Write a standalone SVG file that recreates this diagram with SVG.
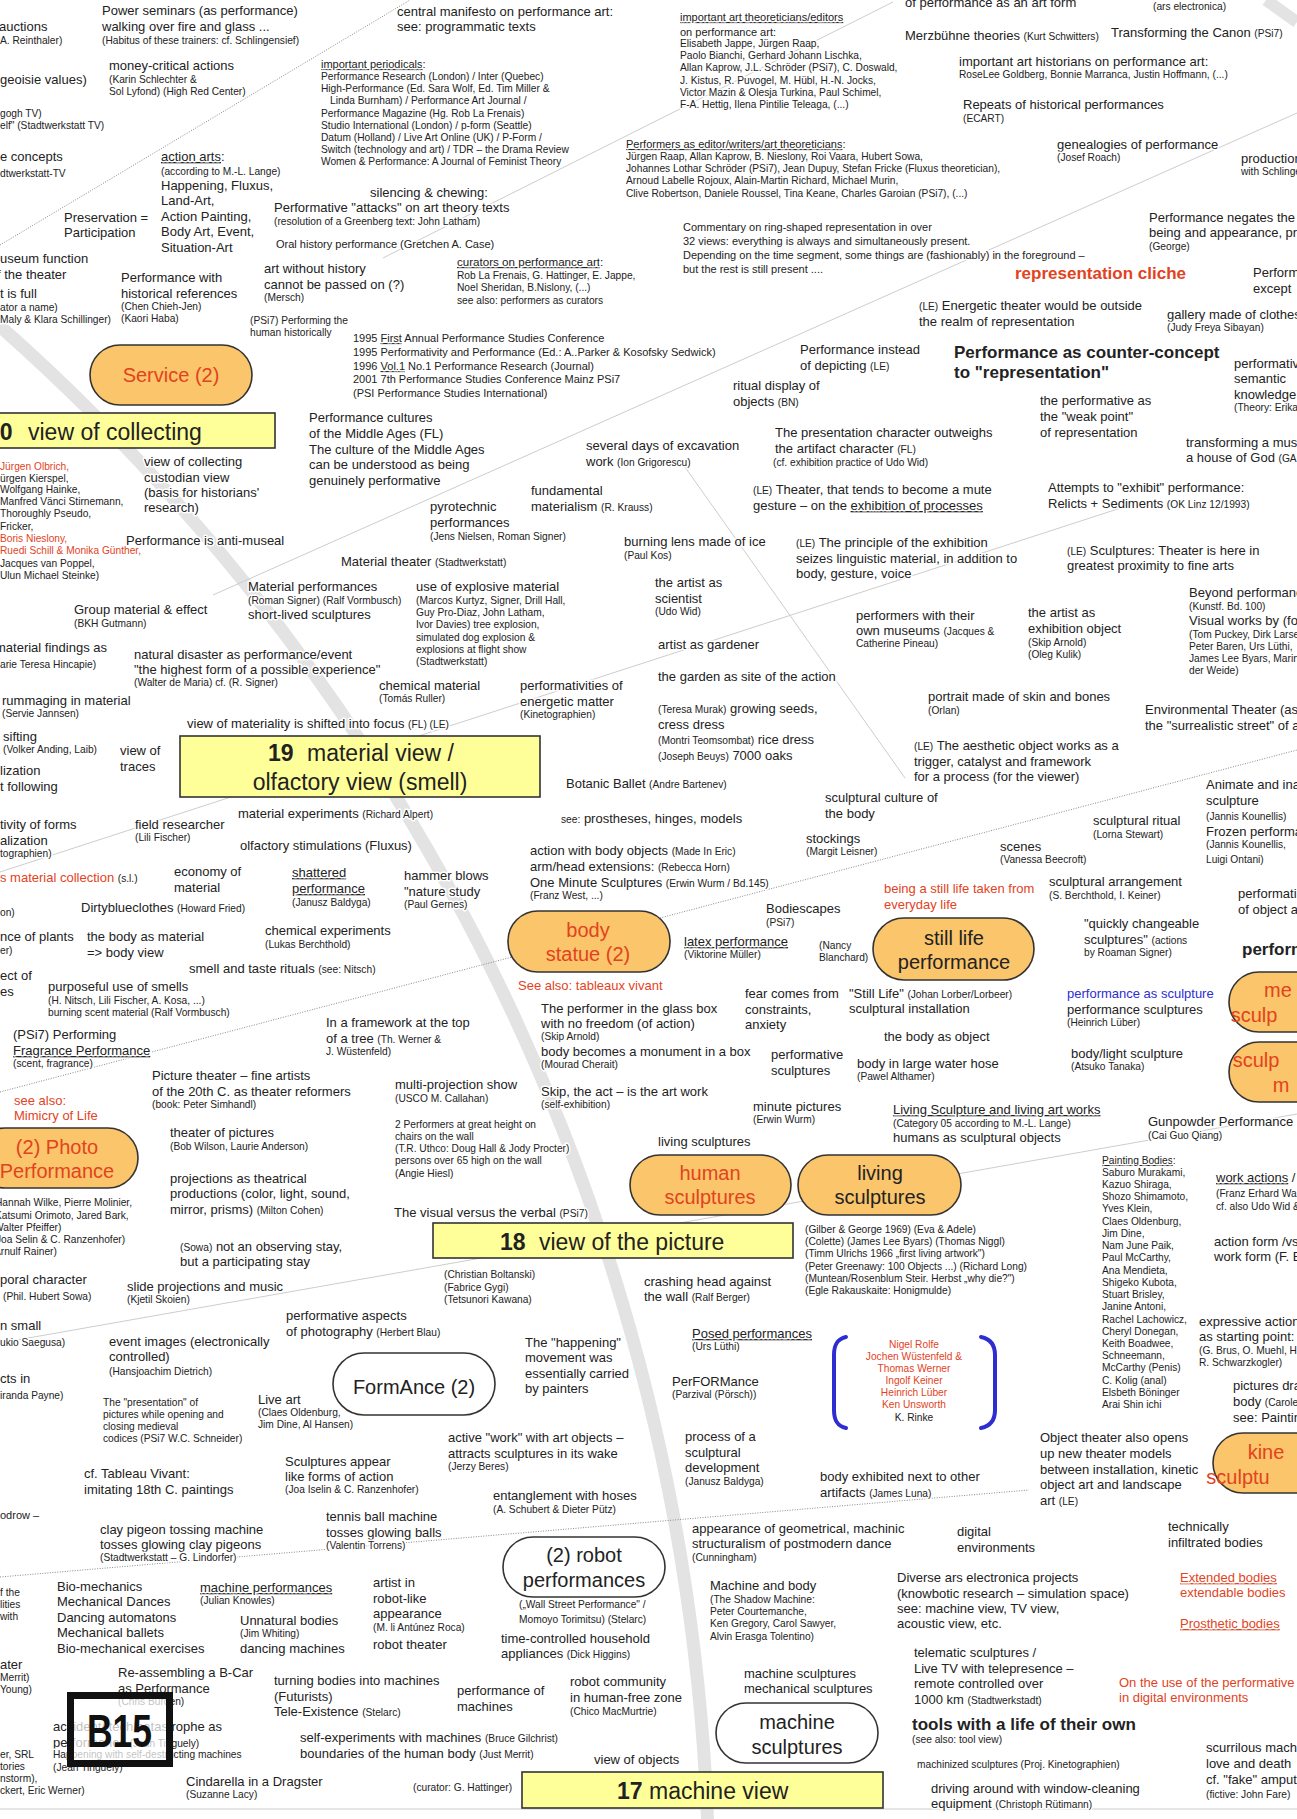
<svg xmlns="http://www.w3.org/2000/svg" width="1297" height="1819" viewBox="0 0 1297 1819">
<style>
text{font-family:"Liberation Sans",Arial,Helvetica,sans-serif;font-size:13px;fill:#222}
.s{font-size:10.2px}
.m{font-size:11px}
.r{fill:#e2431e}
.bl{fill:#2d2dd2}
.u{text-decoration:underline}
.bd{font-weight:bold}
#labels text{paint-order:stroke;stroke:#fff;stroke-width:3px;stroke-linejoin:round}
.pill{stroke:#333;stroke-width:1.6}
.or{fill:#fbc56b}
.wh{fill:#fff}
.yb{fill:#ffff99;stroke:#333;stroke-width:1.6}
.nt{font-size:20px;text-anchor:middle}
.hd{font-size:23px}
.sp{fill:none;stroke:#cdcdcd;stroke-width:1}
.dt{fill:none;stroke:#8a8a8a;stroke-width:1;stroke-dasharray:1 1.5}
</style>
<rect width="1297" height="1819" fill="#fff"/>

<!-- ring of views -->
<g id="ring" fill="none" stroke="#e3e3e3">
<circle cx="-1392" cy="1900" r="2101" stroke-width="13"/>
<path d="M1266,0 L1297,22" stroke-width="12"/>
</g>

<!-- spokes and links -->
<g id="connectors">
<path class="dt" d="M0,245 L410,0"/>
<path class="sp" d="M383,258 L893,2"/>
<path class="sp" d="M213,595 L1297,113"/>
<path class="sp" d="M680,460 L905,778"/>
<path class="sp" d="M0,872 L1130,505"/>
<path class="dt" d="M0,1092 L1297,750"/>
<path class="sp" d="M0,1343 L1297,1114"/>
<path class="dt" d="M0,1577 L1029,1490"/>
<path class="sp" d="M0,1809 L1297,1809"/>
</g>

<g id="labels">
<!-- upper left -->
<text x="-1" y="31">auctions</text>
<text class="s" x="0" y="44">A. Reinthaler)</text>
<text x="102" y="15">Power seminars (as performance)</text>
<text x="102" y="31">walking over fire and glass ...</text>
<text class="s" x="102" y="44">(Habitus of  these trainers: cf. Schlingensief)</text>
<text x="0" y="84">geoisie values)</text>
<text x="109" y="70">money-critical actions</text>
<text class="s" x="109" y="83">(Karin Schlechter &amp;</text>
<text class="s" x="109" y="95">Sol Lyfond) (High Red Center)</text>
<text class="s" x="0" y="117">gogh TV)</text>
<text class="s" x="0" y="129">elf" (Stadtwerkstatt TV)</text>
<text x="0" y="161">e concepts</text>
<text class="s" x="0" y="177">dtwerkstatt-TV</text>
<text x="161" y="161"><tspan class="u">action arts</tspan>:</text>
<text class="s" x="161" y="175">(according to M.-L. Lange)</text>
<text x="161" y="190">Happening, Fluxus,</text>
<text x="161" y="205">Land-Art,</text>
<text x="161" y="221">Action Painting,</text>
<text x="161" y="236">Body Art, Event,</text>
<text x="161" y="252">Situation-Art</text>
<text x="64" y="222">Preservation =</text>
<text x="64" y="237">Participation</text>
<text x="370" y="197">silencing &amp; chewing:</text>
<text x="274" y="212">Performative "attacks" on art theory texts</text>
<text class="s" x="274" y="225">(resolution of a Greenberg text: John Latham)</text>
<text class="m" x="276" y="248">Oral history performance (Gretchen A. Case)</text>
<text x="0" y="263">useum function</text>
<text x="-3" y="279">f the theater</text>
<text x="0" y="298">t is full</text>
<text class="s" x="0" y="311">ator a name)</text>
<text class="s" x="0" y="323">Maly &amp; Klara Schillinger)</text>
<text x="121" y="282">Performance with</text>
<text x="121" y="298">historical references</text>
<text class="s" x="121" y="310">(Chen Chieh-Jen)</text>
<text class="s" x="121" y="322">(Kaori Haba)</text>
<text x="264" y="273">art without history</text>
<text x="264" y="289">cannot be passed on (?)</text>
<text class="s" x="264" y="301">(Mersch)</text>
<text class="s" x="250" y="324">(PSi7) Performing the</text>
<text class="s" x="250" y="336">human historically</text>
<text class="m" x="353" y="342">1995 <tspan class="u">First</tspan> Annual Performance Studies Conference</text>
<text class="m" x="353" y="356">1995 Performativity and Performance (Ed.: A..Parker &amp; Kosofsky Sedwick)</text>
<text class="m" x="353" y="370">1996 <tspan class="u">Vol.1</tspan> No.1 Performance Research (Journal)</text>
<text class="m" x="353" y="383">2001 7th Performance Studies Conference Mainz PSi7</text>
<text class="m" x="353" y="397">(PSI Performance Studies International)</text>
<text x="309" y="422">Performance cultures</text>
<text x="309" y="438">of the Middle Ages (FL)</text>
<text x="309" y="454">The culture of the Middle Ages</text>
<text x="309" y="469">can be understood as being</text>
<text x="309" y="485">genuinely performative</text>

<!-- upper middle -->
<text x="397" y="16">central manifesto on performance art:</text>
<text x="397" y="31">see: programmatic texts</text>
<text class="m" x="321" y="68"><tspan class="u">important periodicals</tspan>:</text>
<text class="s" x="321" y="80">Performance Research (London)  / Inter (Quebec)</text>
<text class="s" x="321" y="92">High-Performance (Ed. Sara Wolf, Ed. Tim Miller &amp;</text>
<text class="s" x="330" y="104">Linda Burnham) / Performance Art Journal /</text>
<text class="s" x="321" y="117">Performance Magazine (Hg. Rob La Frenais)</text>
<text class="s" x="321" y="129">Studio International (London) / p-form (Seattle)</text>
<text class="s" x="321" y="141">Datum (Holland) / Live Art Online (UK) / P-Form /</text>
<text class="s" x="321" y="153">Switch (technology and art) / TDR – the Drama Review</text>
<text class="s" x="321" y="165">Women &amp; Performance: A Journal of Feminist Theory</text>
<text class="m" x="680" y="21"><tspan class="u">important art theoreticians/editors</tspan></text>
<text class="m" x="680" y="36">on performance art:</text>
<text class="s" x="680" y="47">Elisabeth Jappe, Jürgen Raap,</text>
<text class="s" x="680" y="59">Paolo Bianchi, Gerhard Johann Lischka,</text>
<text class="s" x="680" y="71">Allan Kaprow, J.L. Schröder (PSi7), C. Doswald,</text>
<text class="s" x="680" y="84">J. Kistus, R. Puvogel, M. Hübl, H.-N. Jocks,</text>
<text class="s" x="680" y="96">Victor Mazin &amp; Olesja Turkina, Paul Schimel,</text>
<text class="s" x="680" y="108">F-A. Hettig, Ilena Pintilie Teleaga, (...)</text>
<text class="m" x="626" y="148"><tspan class="u">Performers as editor/writers/art theoreticians</tspan>:</text>
<text class="s" x="626" y="160">Jürgen Raap, Allan Kaprow, B. Nieslony, Roi Vaara, Hubert Sowa,</text>
<text class="s" x="626" y="172">Johannes Lothar Schröder (PSi7),  Jean Dupuy, Stefan Fricke (Fluxus theoretician),</text>
<text class="s" x="626" y="184">Arnoud Labelle Rojoux, Alain-Martin Richard, Michael Murin,</text>
<text class="s" x="626" y="197">Clive Robertson, Daniele Roussel, Tina Keane, Charles Garoian (PSi7), (...)</text>
<text class="m" x="683" y="231">Commentary on ring-shaped representation in over</text>
<text class="m" x="683" y="245">32 views: everything is always and simultaneously present.</text>
<text class="m" x="683" y="259">Depending on the time segment, some things are (fashionably) in the foreground –</text>
<text class="m" x="683" y="273">but the rest is still present ....</text>
<text x="457" y="266" style="font-size:11.6px"><tspan class="u">curators on performance art</tspan>:</text>
<text class="s" x="457" y="279">Rob La Frenais, G. Hattinger, E. Jappe,</text>
<text class="s" x="457" y="291">Noel Sheridan, B.Nislony, (...)</text>
<text class="s" x="457" y="304">see also: performers as curators</text>
<text x="800" y="354">Performance instead</text>
<text x="800" y="370">of depicting <tspan class="s">(LE)</tspan></text>
<text x="733" y="390">ritual display of</text>
<text x="733" y="406">objects <tspan class="s">(BN)</tspan></text>
<text x="586" y="450">several days of excavation</text>
<text x="586" y="466">work <tspan class="s">(Ion Grigorescu)</tspan></text>
<text x="775" y="437">The presentation character outweighs</text>
<text x="775" y="453">the artifact character <tspan class="s">(FL)</tspan></text>
<text class="s" x="773" y="466">(cf. exhibition practice of Udo Wid)</text>

<!-- upper right -->
<text x="905" y="7">of performance as an art form</text>
<text class="s" x="1153" y="10">(ars electronica)</text>
<text x="905" y="40">Merzbühne theories <tspan class="s">(Kurt Schwitters)</tspan></text>
<text x="1111" y="37">Transforming the Canon <tspan class="s">(PSi7)</tspan></text>
<text x="959" y="66">important art historians on performance art:</text>
<text class="s" x="959" y="78">RoseLee Goldberg, Bonnie Marranca, Justin Hoffmann, (...)</text>
<text x="963" y="109">Repeats of historical performances</text>
<text class="s" x="963" y="122">(ECART)</text>
<text x="1057" y="149">genealogies of performance</text>
<text class="s" x="1057" y="161">(Josef Roach)</text>
<text x="1241" y="163">production</text>
<text class="s" x="1241" y="175">with Schlinge</text>
<text x="1149" y="222">Performance negates the</text>
<text x="1149" y="237">being and appearance, pr</text>
<text class="s" x="1149" y="250">(George)</text>
<text class="r bd" x="1015" y="279" style="font-size:17px">representation cliche</text>
<text x="1253" y="277">Perform</text>
<text x="1253" y="293">except</text>
<text x="919" y="310"><tspan class="s">(LE)</tspan> Energetic theater would be outside</text>
<text x="919" y="326">the realm of representation</text>
<text x="1167" y="319">gallery made of clothes</text>
<text class="s" x="1167" y="331">(Judy Freya Sibayan)</text>
<text class="bd" x="954" y="358" style="font-size:17px">Performance as counter-concept</text>
<text class="bd" x="954" y="378" style="font-size:17px">to "representation"</text>
<text x="1234" y="368">performative</text>
<text x="1234" y="383">semantic</text>
<text x="1234" y="399">knowledge</text>
<text class="s" x="1234" y="411">(Theory: Erika</text>
<text x="1040" y="405">the performative as</text>
<text x="1040" y="421">the "weak point"</text>
<text x="1040" y="437">of representation</text>
<text x="1186" y="447">transforming a mus</text>
<text x="1186" y="462">a house of God <tspan class="s">(GA</tspan></text>

<!-- collecting / material, left -->
<text class="s r" x="0" y="470">Jürgen Olbrich,</text>
<text class="s" x="0" y="482">ürgen Kierspel,</text>
<text class="s" x="0" y="493">Wolfgang Hainke,</text>
<text class="s" x="0" y="505">Manfred Vänci Stirnemann,</text>
<text class="s" x="0" y="517">Thoroughly Pseudo,</text>
<text class="s" x="0" y="530">Fricker,</text>
<text class="s r" x="0" y="542">Boris Nieslony,</text>
<text class="s r" x="0" y="554">Ruedi Schill &amp; Monika Günther,</text>
<text class="s" x="0" y="567">Jacques van Poppel,</text>
<text class="s" x="0" y="579">Ulun Michael Steinke)</text>
<text x="144" y="466">view of collecting</text>
<text x="144" y="482">custodian view</text>
<text x="144" y="497">(basis for historians'</text>
<text x="144" y="512">research)</text>
<text x="126" y="545">Performance is anti-museal</text>
<text x="341" y="566">Material theater <tspan class="s">(Stadtwerkstatt)</tspan></text>
<text x="248" y="591">Material performances</text>
<text class="s" x="248" y="604">(Roman Signer) (Ralf Vormbusch)</text>
<text x="248" y="619">short-lived sculptures</text>
<text x="74" y="614">Group material &amp; effect</text>
<text class="s" x="74" y="627">(BKH Gutmann)</text>
<text x="416" y="591">use of explosive material</text>
<text class="s" x="416" y="604">(Marcos Kurtyz, Signer, Drill Hall,</text>
<text class="s" x="416" y="616">Guy Pro-Diaz, John Latham,</text>
<text class="s" x="416" y="628">Ivor Davies) tree explosion,</text>
<text class="s" x="416" y="641">simulated dog explosion &amp;</text>
<text class="s" x="416" y="653">explosions at flight show</text>
<text class="s" x="416" y="665">(Stadtwerkstatt)</text>
<text x="-5" y="652">material findings as</text>
<text class="s" x="0" y="668">arie Teresa Hincapie)</text>
<text x="134" y="659">natural disaster as performance/event</text>
<text x="134" y="674">"the highest form of a possible experience"</text>
<text class="s" x="134" y="686">(Walter de Maria) cf. (R. Signer)</text>
<text x="379" y="690">chemical material</text>
<text class="s" x="379" y="702">(Tomás Ruller)</text>
<text x="520" y="690">performativities of</text>
<text x="520" y="706">energetic matter</text>
<text class="s" x="520" y="718">(Kinetographien)</text>
<text x="2" y="705">rummaging in material</text>
<text class="s" x="2" y="717">(Servie Jannsen)</text>
<text x="187" y="728">view of materiality is shifted into focus  <tspan class="s">(FL) (LE)</tspan></text>
<text x="3" y="741">sifting</text>
<text class="s" x="3" y="753">(Volker Anding, Laib)</text>
<text x="120" y="755">view of</text>
<text x="120" y="771">traces</text>
<text x="0" y="775">lization</text>
<text x="0" y="791">t following</text>
<text x="0" y="829">tivity of forms</text>
<text x="0" y="845">alization</text>
<text class="s" x="0" y="857">tographien)</text>
<text x="135" y="829">field researcher</text>
<text class="s" x="135" y="841">(Lili Fischer)</text>
<text x="238" y="818">material experiments <tspan class="s">(Richard Alpert)</tspan></text>
<text x="240" y="850">olfactory stimulations (Fluxus)</text>
<text x="0" y="882"><tspan class="r">s material collection</tspan> <tspan class="s">(s.l.)</tspan></text>
<text x="174" y="876">economy of</text>
<text x="174" y="892">material</text>
<text x="292" y="877"><tspan class="u">shattered</tspan></text>
<text x="292" y="893"><tspan class="u">performance</tspan></text>
<text class="s" x="292" y="906">(Janusz Baldyga)</text>
<text x="404" y="880">hammer blows</text>
<text x="404" y="896">"nature study</text>
<text class="s" x="404" y="908">(Paul Gernes)</text>
<text x="81" y="912">Dirtyblueclothes <tspan class="s">(Howard Fried)</tspan></text>
<text class="s" x="0" y="916">on)</text>

<!-- material, middle -->
<text x="531" y="495">fundamental</text>
<text x="531" y="511">materialism <tspan class="s">(R. Krauss)</tspan></text>
<text x="430" y="511">pyrotechnic</text>
<text x="430" y="527">performances</text>
<text class="s" x="430" y="540">(Jens Nielsen, Roman Signer)</text>
<text x="624" y="546">burning lens made of ice</text>
<text class="s" x="624" y="559">(Paul Kos)</text>
<text x="753" y="494"><tspan class="s">(LE)</tspan> Theater, that tends to become a mute</text>
<text x="753" y="510">gesture – on the <tspan class="u">exhibition of processes</tspan></text>
<text x="796" y="547"><tspan class="s">(LE)</tspan> The principle of the exhibition</text>
<text x="796" y="563">seizes linguistic material, in addition to</text>
<text x="796" y="578">body, gesture, voice</text>
<text x="655" y="587">the artist as</text>
<text x="655" y="603">scientist</text>
<text class="s" x="655" y="615">(Udo Wid)</text>
<text x="856" y="620">performers with their</text>
<text x="856" y="635">own museums <tspan class="s">(Jacques &amp;</tspan></text>
<text class="s" x="856" y="647">Catherine Pineau)</text>
<text x="658" y="649">artist as gardener</text>
<text x="658" y="681">the garden as site of the action</text>
<text x="658" y="713"><tspan class="s">(Teresa Murak)</tspan> growing seeds,</text>
<text x="658" y="729">cress dress</text>
<text x="658" y="744"><tspan class="s">(Montri Teomsombat)</tspan> rice dress</text>
<text x="658" y="760"><tspan class="s">(Joseph Beuys)</tspan> 7000 oaks</text>
<text x="566" y="788">Botanic Ballet <tspan class="s">(Andre Bartenev)</tspan></text>
<text x="561" y="823"><tspan class="s">see:</tspan> prostheses, hinges, models</text>
<text x="530" y="855">action with body objects <tspan class="s">(Made In Eric)</tspan></text>
<text x="530" y="871">arm/head extensions: <tspan class="s">(Rebecca Horn)</tspan></text>
<text x="530" y="887">One Minute Sculptures <tspan class="s">(Erwin Wurm / Bd.145)</tspan></text>
<text class="s" x="530" y="899">(Franz West, ...)</text>
<text x="825" y="802">sculptural culture of</text>
<text x="825" y="818">the body</text>
<text x="806" y="843">stockings</text>
<text class="s" x="806" y="855">(Margit Leisner)</text>
<text x="766" y="913">Bodiescapes</text>
<text class="s" x="766" y="926">(PSi7)</text>

<!-- material / sculpture, right -->
<text x="1048" y="492">Attempts to "exhibit" performance:</text>
<text x="1048" y="508">Relicts + Sediments <tspan class="s">(OK Linz 12/1993)</tspan></text>
<text x="1067" y="555"><tspan class="s">(LE)</tspan> Sculptures: Theater is here in</text>
<text x="1067" y="570">greatest proximity to fine arts</text>
<text x="1189" y="597">Beyond performance</text>
<text class="s" x="1189" y="610">(Kunstf. Bd. 100)</text>
<text x="1189" y="625">Visual works by (fo</text>
<text class="s" x="1189" y="638">(Tom Puckey, Dirk Larsen,</text>
<text class="s" x="1189" y="650">Peter Baren, Urs Lüthi,</text>
<text class="s" x="1189" y="662">James Lee Byars, Marin</text>
<text class="s" x="1189" y="674">der Weide)</text>
<text x="1028" y="617">the artist as</text>
<text x="1028" y="633">exhibition object</text>
<text class="s" x="1028" y="646">(Skip Arnold)</text>
<text class="s" x="1028" y="658">(Oleg Kulik)</text>
<text x="928" y="701">portrait made of skin and bones</text>
<text class="s" x="928" y="714">(Orlan)</text>
<text x="1145" y="714">Environmental Theater (as</text>
<text x="1145" y="730">the "surrealistic street" of a</text>
<text x="914" y="750"><tspan class="s">(LE)</tspan> The aesthetic object works as a</text>
<text x="914" y="766">trigger, catalyst and framework</text>
<text x="914" y="781">for a process (for the viewer)</text>
<text x="1206" y="789">Animate and ina</text>
<text x="1206" y="805">sculpture</text>
<text class="s" x="1206" y="820">(Jannis Kounellis)</text>
<text x="1206" y="836">Frozen performa</text>
<text class="s" x="1206" y="848">(Jannis Kounellis,</text>
<text class="s" x="1206" y="863">Luigi Ontani)</text>
<text x="1093" y="825">sculptural ritual</text>
<text class="s" x="1093" y="838">(Lorna Stewart)</text>
<text x="1000" y="851">scenes</text>
<text class="s" x="1000" y="863">(Vanessa Beecroft)</text>
<text class="r" x="884" y="893">being a still life taken from</text>
<text class="r" x="884" y="909">everyday life</text>
<text x="1049" y="886">sculptural arrangement</text>
<text class="s" x="1049" y="899">(S. Berchthold, I. Keiner)</text>
<text x="1238" y="898">performati</text>
<text x="1238" y="914">of object a</text>

<!-- picture view, left -->
<text x="0" y="941">nce of plants</text>
<text class="s" x="0" y="954">er)</text>
<text x="0" y="980">ect of</text>
<text x="0" y="996">es</text>
<text x="87" y="941">the body as material</text>
<text x="87" y="957">=&gt; body view</text>
<text x="265" y="935">chemical experiments</text>
<text class="s" x="265" y="948">(Lukas Berchthold)</text>
<text x="189" y="973">smell and taste rituals <tspan class="s">(see: Nitsch)</tspan></text>
<text x="48" y="991">purposeful use of smells</text>
<text class="s" x="48" y="1004">(H. Nitsch, Lili Fischer, A. Kosa, ...)</text>
<text class="s" x="48" y="1016">burning scent material (Ralf Vormbusch)</text>
<text x="13" y="1039">(PSi7) Performing</text>
<text x="13" y="1055"><tspan class="u">Fragrance Performance</tspan></text>
<text class="s" x="13" y="1067">(scent, fragrance)</text>
<text x="326" y="1027">In a framework at the top</text>
<text x="326" y="1043">of a tree <tspan class="s">(Th. Werner &amp;</tspan></text>
<text class="s" x="326" y="1055">J. Wüstenfeld)</text>
<text class="r" x="14" y="1105">see also:</text>
<text class="r" x="14" y="1120">Mimicry of Life</text>
<text x="152" y="1080">Picture theater – fine artists</text>
<text x="152" y="1096">of the 20th C. as theater reformers</text>
<text class="s" x="152" y="1108">(book: Peter Simhandl)</text>
<text x="395" y="1089">multi-projection show</text>
<text class="s" x="395" y="1102">(USCO M. Callahan)</text>
<text x="170" y="1137">theater of pictures</text>
<text class="s" x="170" y="1150">(Bob Wilson, Laurie Anderson)</text>
<text class="s" x="395" y="1128">2 Performers at great height on</text>
<text class="s" x="395" y="1140">chairs on the wall</text>
<text class="s" x="395" y="1152">(T.R. Uthco: Doug Hall &amp;  Jody Procter)</text>
<text class="s" x="395" y="1164">persons over 65 high on the wall</text>
<text class="s" x="395" y="1177">(Angie Hiesl)</text>
<text x="170" y="1183">projections as theatrical</text>
<text x="170" y="1198">productions (color, light, sound,</text>
<text x="170" y="1214">mirror, prisms) <tspan class="s">(Milton Cohen)</tspan></text>
<text class="s" x="-5" y="1206">Hannah Wilke, Pierre Molinier,</text>
<text class="s" x="-5" y="1219">Katsumi Orimoto, Jared Bark,</text>
<text class="s" x="-6" y="1231">Walter Pfeiffer)</text>
<text class="s" x="-4" y="1243">Joa Selin &amp; C. Ranzenhofer)</text>
<text class="s" x="-6" y="1255">Arnulf Rainer)</text>
<text x="394" y="1217">The visual versus the verbal <tspan class="s">(PSi7)</tspan></text>
<text x="180" y="1251"><tspan class="s">(Sowa)</tspan> not an observing stay,</text>
<text x="180" y="1266">but a participating stay</text>
<text x="0" y="1284">poral character</text>
<text class="s" x="3" y="1300">(Phil. Hubert Sowa)</text>
<text x="127" y="1291">slide projections and music</text>
<text class="s" x="127" y="1303">(Kjetil Skoien)</text>
<text x="286" y="1320">performative aspects</text>
<text x="286" y="1336">of photography <tspan class="s">(Herbert Blau)</tspan></text>
<text x="0" y="1330">n small</text>
<text class="s" x="0" y="1346">ukio Saegusa)</text>
<text x="109" y="1346">event images (electronically</text>
<text x="109" y="1361">controlled)</text>
<text class="s" x="109" y="1375">(Hansjoachim Dietrich)</text>

<!-- picture view, middle -->
<text class="r" x="518" y="990">See also:  tableaux vivant</text>
<text x="684" y="946"><tspan class="u">latex performance</tspan></text>
<text class="s" x="684" y="958">(Viktorine Müller)</text>
<text class="s" x="819" y="949">(Nancy</text>
<text class="s" x="819" y="961">Blanchard)</text>
<text x="541" y="1013">The performer in the glass box</text>
<text x="541" y="1028">with no freedom (of action)</text>
<text class="s" x="541" y="1040">(Skip Arnold)</text>
<text x="541" y="1056">body becomes a monument in a box</text>
<text class="s" x="541" y="1068">(Mourad Cherait)</text>
<text x="541" y="1096">Skip, the act – is the art work</text>
<text class="s" x="541" y="1108">(self-exhibition)</text>
<text x="745" y="998">fear comes from</text>
<text x="745" y="1014">constraints,</text>
<text x="745" y="1029">anxiety</text>
<text x="849" y="998">"Still Life" <tspan class="s">(Johan Lorber/Lorbeer)</tspan></text>
<text x="849" y="1013">sculptural installation</text>
<text x="771" y="1059">performative</text>
<text x="771" y="1075">sculptures</text>
<text x="884" y="1041">the body as object</text>
<text x="857" y="1068">body in large water hose</text>
<text class="s" x="857" y="1080">(Pawel Althamer)</text>
<text x="753" y="1111">minute pictures</text>
<text class="s" x="753" y="1123">(Erwin Wurm)</text>
<text x="658" y="1146">living sculptures</text>
<text class="s" x="444" y="1278">(Christian Boltanski)</text>
<text class="s" x="444" y="1291">(Fabrice Gygi)</text>
<text class="s" x="444" y="1303">(Tetsunori Kawana)</text>
<text x="644" y="1286">crashing head against</text>
<text x="644" y="1301">the wall <tspan class="s">(Ralf Berger)</tspan></text>
<text class="s" x="805" y="1233">(Gilber &amp; George 1969) (Eva &amp; Adele)</text>
<text class="s" x="805" y="1245">(Colette) (James Lee Byars) (Thomas Niggl)</text>
<text class="s" x="805" y="1257">(Timm Ulrichs 1966 „first living artwork")</text>
<text class="s" x="805" y="1270">(Peter Greenawy: 100 Objects ...) (Richard Long)</text>
<text class="s" x="805" y="1282">(Muntean/Rosenblum Steir. Herbst „why die?")</text>
<text class="s" x="805" y="1294">(Egle Rakauskaite: Honigmulde)</text>
<text x="692" y="1338"><tspan class="u">Posed performances</tspan></text>
<text class="s" x="692" y="1350">(Urs Lüthi)</text>
<text x="525" y="1347">The "happening"</text>
<text x="525" y="1362">movement was</text>
<text x="525" y="1378">essentially carried</text>
<text x="525" y="1393">by painters</text>

<!-- sculpture, right -->
<text x="1084" y="928">"quickly changeable</text>
<text x="1084" y="944">sculptures" <tspan class="s">(actions</tspan></text>
<text class="s" x="1084" y="956">by Roaman Signer)</text>
<text class="bd" x="1242" y="955" style="font-size:17px">performance</text>
<text class="bl" x="1067" y="998">performance as sculpture</text>
<text x="1067" y="1014">performance sculptures</text>
<text class="s" x="1067" y="1026">(Heinrich Lüber)</text>
<text x="1071" y="1058">body/light sculpture</text>
<text class="s" x="1071" y="1070">(Atsuko Tanaka)</text>
<text x="893" y="1114"><tspan class="u">Living Sculpture and living art works</tspan></text>
<text class="s" x="893" y="1127">(Category 05 according to M.-L. Lange)</text>
<text x="893" y="1142">humans as sculptural objects</text>
<text x="1148" y="1126">Gunpowder Performance</text>
<text class="s" x="1148" y="1139">(Cai Guo Qiang)</text>
<text class="s" x="1102" y="1164"><tspan class="u">Painting Bodies</tspan>:</text>
<text class="s" x="1102" y="1176">Saburo Murakami,</text>
<text class="s" x="1102" y="1188">Kazuo Shiraga,</text>
<text class="s" x="1102" y="1200">Shozo Shimamoto,</text>
<text class="s" x="1102" y="1212">Yves Klein,</text>
<text class="s" x="1102" y="1225">Claes Oldenburg,</text>
<text class="s" x="1102" y="1237">Jim Dine,</text>
<text class="s" x="1102" y="1249">Nam June Paik,</text>
<text class="s" x="1102" y="1261">Paul McCarthy,</text>
<text class="s" x="1102" y="1274">Ana Mendieta,</text>
<text class="s" x="1102" y="1286">Shigeko Kubota,</text>
<text class="s" x="1102" y="1298">Stuart Brisley,</text>
<text class="s" x="1102" y="1310">Janine Antoni,</text>
<text class="s" x="1102" y="1323">Rachel Lachowicz,</text>
<text class="s" x="1102" y="1335">Cheryl Donegan,</text>
<text class="s" x="1102" y="1347">Keith Boadwee,</text>
<text class="s" x="1102" y="1359">Schneemann,</text>
<text class="s" x="1102" y="1371">McCarthy (Penis)</text>
<text class="s" x="1102" y="1384">C. Kolig (anal)</text>
<text class="s" x="1102" y="1396">Elsbeth Böninger</text>
<text class="s" x="1102" y="1408">Arai Shin ichi</text>
<text x="1216" y="1182"><tspan class="u">work actions</tspan> /</text>
<text class="s" x="1216" y="1197">(Franz Erhard Wa</text>
<text class="s" x="1216" y="1210">cf. also Udo Wid &amp;</text>
<text x="1214" y="1246">action form /vs</text>
<text x="1214" y="1261">work form (F. E</text>
<text x="1199" y="1326">expressive action</text>
<text x="1199" y="1341">as starting point:</text>
<text class="s" x="1199" y="1354">(G. Brus, O. Muehl, H</text>
<text class="s" x="1199" y="1366">R. Schwarzkogler)</text>
<g text-anchor="middle">
<text class="s r" x="914" y="1348">Nigel Rolfe</text>
<text class="s r" x="914" y="1360">Jochen Wüstenfeld &amp;</text>
<text class="s r" x="914" y="1372">Thomas Werner</text>
<text class="s r" x="914" y="1384">Ingolf Keiner</text>
<text class="s r" x="914" y="1396">Heinrich Lüber</text>
<text class="s r" x="914" y="1408">Ken Unsworth</text>
<text class="s" x="914" y="1421">K. Rinke</text>
</g>

<!-- machine view, left -->
<text x="0" y="1383">cts in</text>
<text class="s" x="0" y="1399">iranda Payne)</text>
<text class="s" x="103" y="1406">The "presentation" of</text>
<text class="s" x="103" y="1418">pictures while opening and</text>
<text class="s" x="103" y="1430">closing medieval</text>
<text class="s" x="103" y="1442">codices (PSi7 W.C. Schneider)</text>
<text x="258" y="1404">Live art</text>
<text class="s" x="258" y="1416">(Claes Oldenburg,</text>
<text class="s" x="258" y="1428">Jim Dine,  Al Hansen)</text>
<text x="84" y="1478">cf. Tableau Vivant:</text>
<text x="84" y="1494">imitating 18th C. paintings</text>
<text x="285" y="1466">Sculptures appear</text>
<text x="285" y="1481">like forms of action</text>
<text class="s" x="285" y="1493">(Joa Iselin &amp; C. Ranzenhofer)</text>
<text class="m" x="0" y="1519">odrow –</text>
<text x="100" y="1534">clay pigeon tossing machine</text>
<text x="100" y="1549">tosses glowing clay pigeons</text>
<text class="s" x="100" y="1561">(Stadtwerkstatt – G. Lindorfer)</text>
<text x="326" y="1521">tennis ball machine</text>
<text x="326" y="1537">tosses glowing balls</text>
<text class="s" x="326" y="1549">(Valentin Torrens)</text>
<text class="s" x="0" y="1596">f the</text>
<text class="s" x="0" y="1608">lities</text>
<text class="s" x="0" y="1620">with</text>
<text x="57" y="1591">Bio-mechanics</text>
<text x="57" y="1606">Mechanical Dances</text>
<text x="57" y="1622">Dancing automatons</text>
<text x="57" y="1637">Mechanical ballets</text>
<text x="57" y="1653">Bio-mechanical exercises</text>
<text x="200" y="1592"><tspan class="u">machine performances</tspan></text>
<text class="s" x="200" y="1604">(Julian Knowles)</text>
<text x="240" y="1625">Unnatural bodies</text>
<text class="s" x="240" y="1637">(Jim Whiting)</text>
<text x="240" y="1653">dancing machines</text>
<text x="373" y="1587">artist in</text>
<text x="373" y="1603">robot-like</text>
<text x="373" y="1618">appearance</text>
<text class="s" x="373" y="1631">(M. li Antúnez Roca)</text>
<text x="373" y="1649">robot theater</text>
<text x="0" y="1669">ater</text>
<text class="s" x="0" y="1681">Merrit)</text>
<text class="s" x="0" y="1693">Young)</text>
<text x="118" y="1677">Re-assembling a B-Car</text>
<text x="118" y="1693">as Performance</text>
<text class="s" x="118" y="1705">(Chris Burden)</text>
<text x="274" y="1685">turning bodies into machines</text>
<text x="274" y="1701">(Futurists)</text>
<text x="274" y="1716">Tele-Existence <tspan class="s">(Stelarc)</tspan></text>
<text x="53" y="1731">accident/ tech catastrophe as</text>
<text x="53" y="1747">performance <tspan class="s">(Jean Tinguely)</tspan></text>
<text class="s" x="53" y="1758">Happening with self-destructing machines</text>
<text class="s" x="53" y="1771">(Jean Tinguely)</text>
<text class="s" x="0" y="1758">er, SRL</text>
<text class="s" x="0" y="1770">tories</text>
<text class="s" x="0" y="1782">nstorm),</text>
<text class="s" x="0" y="1794">ckert, Eric Werner)</text>
<text x="300" y="1742">self-experiments with machines <tspan class="s">(Bruce Gilchrist)</tspan></text>
<text x="300" y="1758">boundaries of the human body <tspan class="s">(Just Merrit)</tspan></text>
<text x="186" y="1786">Cindarella in a Dragster</text>
<text class="s" x="186" y="1798">(Suzanne Lacy)</text>
<text class="s" x="413" y="1791">(curator: G. Hattinger)</text>

<!-- machine view, middle and right -->
<text x="672" y="1386">PerFORMance</text>
<text class="s" x="672" y="1398">(Parzival (Pörsch))</text>
<text x="448" y="1442">active "work" with art objects –</text>
<text x="448" y="1458">attracts sculptures in its wake</text>
<text class="s" x="448" y="1470">(Jerzy Beres)</text>
<text x="685" y="1441">process of a</text>
<text x="685" y="1457">sculptural</text>
<text x="685" y="1472">development</text>
<text class="s" x="685" y="1485">(Janusz Baldyga)</text>
<text x="820" y="1481">body exhibited next to other</text>
<text x="820" y="1497">artifacts <tspan class="s">(James Luna)</tspan></text>
<text x="493" y="1500">entanglement with hoses</text>
<text class="s" x="493" y="1513">(A. Schubert &amp; Dieter Pütz)</text>
<text x="692" y="1533">appearance of geometrical, machinic</text>
<text x="692" y="1548">structuralism of postmodern dance</text>
<text class="s" x="692" y="1561">(Cunningham)</text>
<text x="957" y="1536">digital</text>
<text x="957" y="1552">environments</text>
<text class="s" x="519" y="1608">(„Wall Street Performance" /</text>
<text class="s" x="519" y="1623">Momoyo Torimitsu) (Stelarc)</text>
<text x="710" y="1590">Machine and body</text>
<text class="s" x="710" y="1603">(The Shadow Machine:</text>
<text class="s" x="710" y="1615">Peter Courtemanche,</text>
<text class="s" x="710" y="1627">Ken Gregory, Carol Sawyer,</text>
<text class="s" x="710" y="1640">Alvin Erasga Tolentino)</text>
<text x="501" y="1643">time-controlled household</text>
<text x="501" y="1658">appliances <tspan class="s">(Dick Higgins)</tspan></text>
<text x="570" y="1686">robot community</text>
<text x="570" y="1702">in human-free zone</text>
<text class="s" x="570" y="1715">(Chico MacMurtrie)</text>
<text x="457" y="1695">performance of</text>
<text x="457" y="1711">machines</text>
<text x="744" y="1678">machine sculptures</text>
<text x="744" y="1693">mechanical sculptures</text>
<text x="594" y="1764">view of objects</text>
<text x="1233" y="1390">pictures dra</text>
<text x="1233" y="1406">body <tspan class="s">(Carole</tspan></text>
<text x="1233" y="1422">see: Paintin</text>
<text x="1040" y="1442">Object theater also opens</text>
<text x="1040" y="1458">up new theater models</text>
<text x="1040" y="1474">between installation, kinetic</text>
<text x="1040" y="1489">object art and landscape</text>
<text x="1040" y="1505">art <tspan class="s">(LE)</tspan></text>
<text x="1168" y="1531">technically</text>
<text x="1168" y="1547">infiltrated bodies</text>
<text x="897" y="1582">Diverse ars electronica projects</text>
<text x="897" y="1598">(knowbotic research – simulation space)</text>
<text x="897" y="1613">see: machine view, TV view,</text>
<text x="897" y="1628">acoustic view, etc.</text>
<text class="r" x="1180" y="1582"><tspan class="u">Extended bodies</tspan></text>
<text class="r" x="1180" y="1597">extendable bodies</text>
<text class="r" x="1180" y="1628"><tspan class="u">Prosthetic bodies</tspan></text>
<text x="914" y="1657">telematic sculptures /</text>
<text x="914" y="1673">Live TV with telepresence –</text>
<text x="914" y="1688">remote controlled over</text>
<text x="914" y="1704">1000 km <tspan class="s">(Stadtwerkstadt)</tspan></text>
<text class="r" x="1119" y="1687">On the use of the performative</text>
<text class="r" x="1119" y="1702">in digital environments</text>
<text class="bd" x="912" y="1730" style="font-size:17px">tools with a life of their own</text>
<text class="s" x="912" y="1743">(see also: tool view)</text>
<text class="s" x="917" y="1768">machinized sculptures (Proj. Kinetographien)</text>
<text x="931" y="1793">driving around with window-cleaning</text>
<text x="931" y="1808">equipment <tspan class="s">(Christoph Rütimann)</tspan></text>
<text x="1206" y="1752">scurrilous mach</text>
<text x="1206" y="1768">love and death</text>
<text x="1206" y="1784">cf. "fake" amput</text>
<text class="s" x="1206" y="1798">(fictive: John Fare)</text>
</g>

<!-- blue brackets around the posed performers -->
<g id="brackets" fill="none" stroke="#2d2dd2" stroke-width="4" stroke-linecap="round">
<path d="M846,1337 C837,1339 834,1345 834,1355 L834,1410 C834,1420 837,1426 846,1428"/>
<path d="M981,1337 C991,1339 995,1345 995,1355 L995,1410 C995,1420 991,1426 981,1428"/>
</g>

<!-- view boxes -->
<g id="view-20">
<rect class="yb" x="-10" y="413" width="285" height="35"/>
<text class="hd" x="-13" y="440"><tspan class="bd">20</tspan></text>
<text class="hd" x="28" y="440">view of collecting</text>
</g>
<g id="view-19">
<rect class="yb" x="180" y="736" width="360" height="61"/>
<text class="hd" x="268" y="761"><tspan class="bd">19</tspan></text>
<text class="hd" x="307" y="761">material view /</text>
<text class="hd" x="360" y="790" text-anchor="middle">olfactory view (smell)</text>
</g>
<g id="view-18">
<rect class="yb" x="433" y="1223" width="360" height="35"/>
<text class="hd" x="500" y="1250"><tspan class="bd">18</tspan></text>
<text class="hd" x="539" y="1250">view of the picture</text>
</g>
<g id="view-17">
<rect class="yb" x="522" y="1772" width="361" height="36"/>
<text class="hd" x="617" y="1799"><tspan class="bd">17</tspan></text>
<text class="hd" x="649" y="1799">machine view</text>
</g>

<!-- pill nodes -->
<g id="node-service">
<rect class="pill or" x="90" y="345" width="162" height="60" rx="30"/>
<text class="nt r" x="171" y="382">Service (2)</text>
</g>
<g id="node-body-statue">
<rect class="pill or" x="508" y="911" width="162" height="61" rx="30"/>
<text class="nt r" x="588" y="937">body</text>
<text class="nt r" x="588" y="961">statue  (2)</text>
</g>
<g id="node-still-life">
<rect class="pill or" x="873" y="918" width="161" height="62" rx="31"/>
<text class="nt" x="954" y="945">still life</text>
<text class="nt" x="954" y="969">performance</text>
</g>
<g id="node-edge-1">
<rect class="pill or" x="1229" y="972" width="140" height="60" rx="30"/>
<text class="nt r" x="1278" y="997" text-anchor="start">me</text>
<text class="nt r" x="1254" y="1022" text-anchor="start">sculp</text>
</g>
<g id="node-edge-2">
<rect class="pill or" x="1229" y="1042" width="140" height="60" rx="30"/>
<text class="nt r" x="1256" y="1067" text-anchor="start">sculp</text>
<text class="nt r" x="1281" y="1092" text-anchor="start">m</text>
</g>
<g id="node-photo">
<rect class="pill or" x="-25" y="1128" width="163" height="60" rx="30"/>
<text class="nt r" x="57" y="1154">(2) Photo</text>
<text class="nt r" x="57" y="1178">Performance</text>
</g>
<g id="node-human-sculptures">
<rect class="pill or" x="630" y="1155" width="161" height="60" rx="30"/>
<text class="nt r" x="710" y="1180">human</text>
<text class="nt r" x="710" y="1204">sculptures</text>
</g>
<g id="node-living-sculptures">
<rect class="pill or" x="798" y="1155" width="163" height="60" rx="30"/>
<text class="nt" x="880" y="1180">living</text>
<text class="nt" x="880" y="1204">sculptures</text>
</g>
<g id="node-formance">
<rect class="pill wh" x="333" y="1353" width="162" height="62" rx="31"/>
<text class="nt" x="414" y="1394">FormAnce (2)</text>
</g>
<g id="node-kinetic">
<rect class="pill or" x="1213" y="1433" width="140" height="60" rx="30"/>
<text class="nt r" x="1266" y="1459" text-anchor="start">kine</text>
<text class="nt r" x="1238" y="1484" text-anchor="start">sculptu</text>
</g>
<g id="node-robot">
<rect class="pill wh" x="503" y="1537" width="162" height="60" rx="30"/>
<text class="nt" x="584" y="1562">(2) robot</text>
<text class="nt" x="584" y="1587">performances</text>
</g>
<g id="node-machine-sculptures">
<rect class="pill wh" x="716" y="1703" width="162" height="60" rx="30"/>
<text class="nt" x="797" y="1729">machine</text>
<text class="nt" x="797" y="1754">sculptures</text>
</g>

<!-- sheet tag -->
<g id="tag-b15">
<rect x="70.5" y="1695.5" width="99" height="68" fill="#fff" fill-opacity="0.72" stroke="#111" stroke-width="7"/>
<text class="bd" x="87" y="1747" style="font-size:46px;fill:#111" textLength="65" lengthAdjust="spacingAndGlyphs">B15</text>
</g>
</svg>
